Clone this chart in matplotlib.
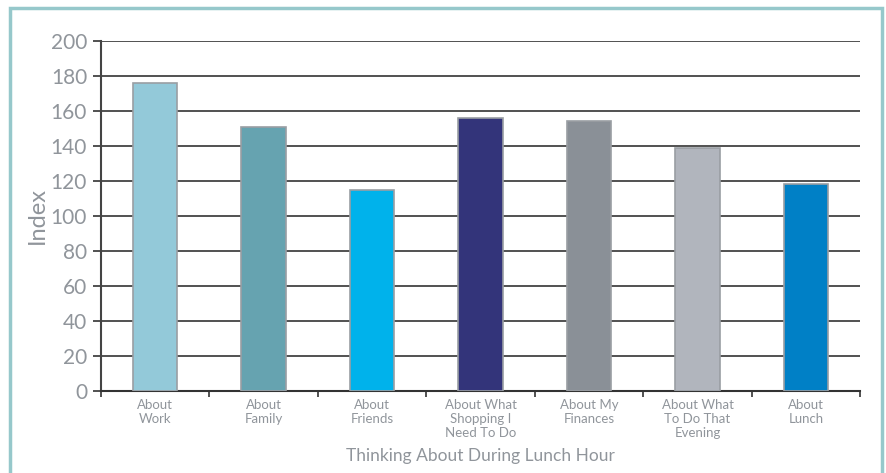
import matplotlib
matplotlib.use("Agg")
import matplotlib.pyplot as plt
from matplotlib.patches import Rectangle
from matplotlib.ticker import FixedLocator

categories = ["About\nWork", "About\nFamily", "About\nFriends", "About What\nShopping I\nNeed To Do",
              "About My\nFinances", "About What\nTo Do That\nEvening", "About\nLunch"]
values = [176, 151, 115, 156, 154, 139, 118]
colors = ["#93C9D9", "#66A3B0", "#00B2EB", "#33347A", "#8A9097", "#B1B5BD", "#0080C6"]
y_ticks = [0, 20, 40, 60, 80, 100, 120, 140, 160, 180, 200]

plt.rcParams['font.family'] = ['Lato', 'DejaVu Sans']

fig = plt.figure(figsize=(8.86, 4.73), dpi=100)
ax = fig.add_axes([0.114, 0.1734, 0.857, 0.74])

fig.patches.append(Rectangle((10/886, -0.05), 872/886, (465/473) + 0.05, transform=fig.transFigure,
                             fill=False, edgecolor="#96C8CB", linewidth=2.5))

x = list(range(len(categories)))
ax.set_axisbelow(True)
ax.yaxis.grid(True, color="#333333", linewidth=1.2)
ax.bar(x, values, width=0.41, color=colors, edgecolor="#9A9EA3", linewidth=1.2, zorder=3)

ax.set_xlim(-0.5, len(categories) - 0.5)
ax.set_ylim(0, 200)
ax.set_yticks(y_ticks)
ax.tick_params(axis='y', labelsize=15, labelcolor="#90959B", color="#333333", length=6, width=1.2, pad=4)
ax.set_xticks(x)
ax.set_xticklabels(categories, fontsize=9.5, color="#90959B", linespacing=1.2)
ax.tick_params(axis='x', length=0, pad=6)
ax.xaxis.set_minor_locator(FixedLocator([i - 0.5 for i in range(len(categories) + 1)]))
ax.tick_params(axis='x', which='minor', length=4, width=1.2, color="#333333")

for s in ["top", "right"]:
    ax.spines[s].set_visible(False)
ax.spines["left"].set_color("#444444")
ax.spines["left"].set_linewidth(1.5)
ax.spines["bottom"].set_color("#333333")
ax.spines["bottom"].set_linewidth(1.5)

ax.set_ylabel("Index", fontsize=17, color="#90959B", labelpad=2)
ax.set_xlabel("Thinking About During Lunch Hour", fontsize=12.5, color="#90959B", labelpad=6)

fig.savefig("out.png", dpi=100)
